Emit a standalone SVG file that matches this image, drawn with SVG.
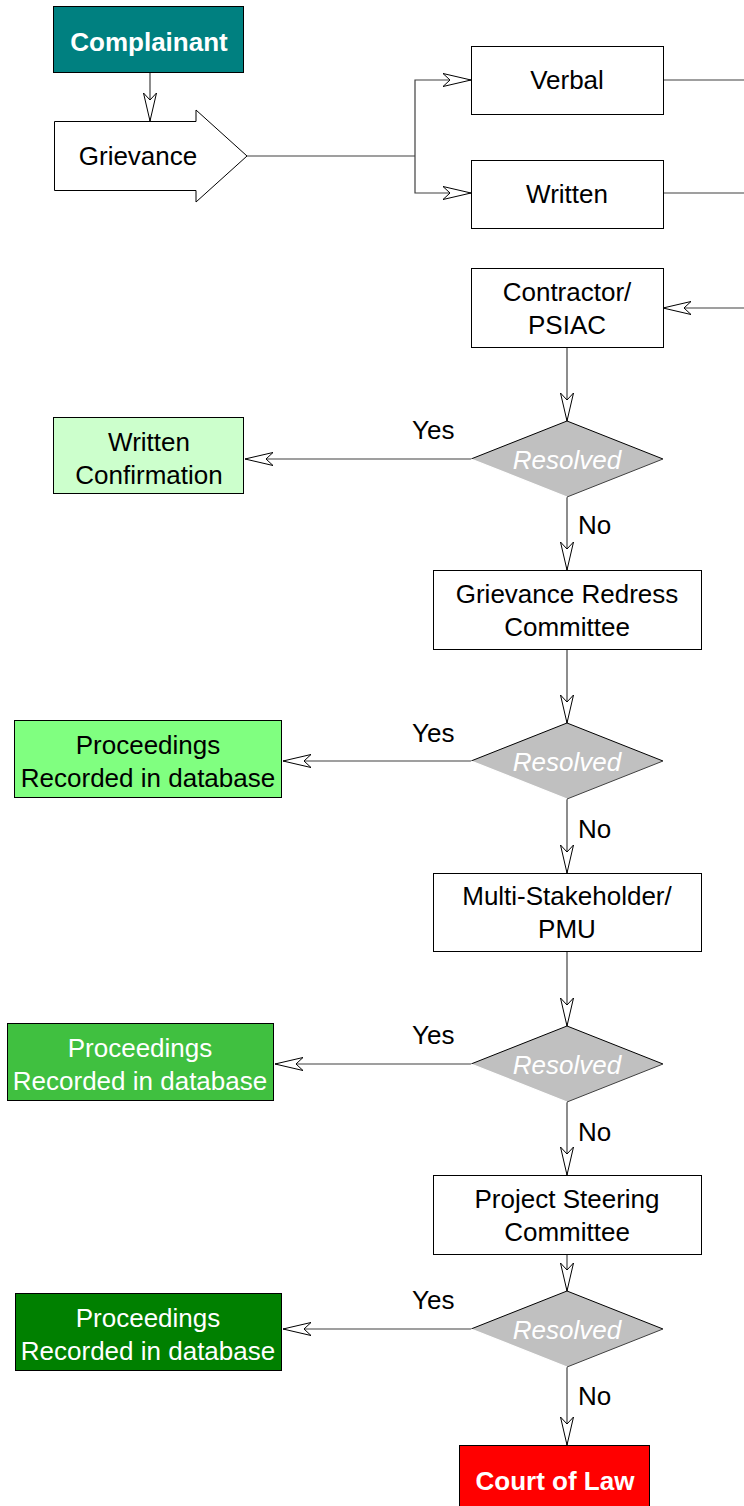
<svg xmlns="http://www.w3.org/2000/svg" width="744" height="1506" viewBox="0 0 744 1506">
<style>
.box{fill:#fff;stroke:#000;stroke-width:1}
.t{font-family:"Liberation Sans",Arial,sans-serif;font-size:26px;fill:#000;text-anchor:middle;dominant-baseline:central}
.tw{fill:#fff}
.b{font-weight:bold}
.dia{fill:#c0c0c0;stroke:none}
.de1{fill:none;stroke:#000;stroke-width:1}
.de2{fill:none;stroke:#fff;stroke-width:1.2}
.de3{fill:none;stroke:#404040;stroke-width:1}
.res{font-family:"Liberation Sans",Arial,sans-serif;font-size:26px;fill:#fff;font-style:italic;text-anchor:middle;dominant-baseline:central}
.c{fill:none;stroke:#404040;stroke-width:1.2}
.lbl{font-family:"Liberation Sans",Arial,sans-serif;font-size:26px;fill:#000;dominant-baseline:central}
</style>
<defs>
<marker id="ah" markerUnits="userSpaceOnUse" markerWidth="32" markerHeight="16" refX="29" refY="8" orient="auto">
<path d="M1,1.5 L29,8 L1,14.5 L8,8 Z" fill="#fff" stroke="#000" stroke-width="1"/>
</marker>
<g id="diamond">
<path class="dia" d="M-96,0 L0,-38 L96,0 L0,38 Z"/>
<path class="de1" d="M-96,0 L0,-38 L96,0"/>
<path class="de3" d="M96,0 L0,38"/>
<path class="de2" d="M0,38 L-96,0"/>
</g>
</defs>
<g id="connectors">
<path class="c" d="M150,72 V121" marker-end="url(#ah)"/>
<path class="c" d="M247,156 H415"/>
<path class="c" d="M415,156 V80 H471" marker-end="url(#ah)"/>
<path class="c" d="M415,156 V193 H471" marker-end="url(#ah)"/>
<path class="c" d="M663,80 H744"/>
<path class="c" d="M663,193 H744"/>
<path class="c" d="M744,308 H663" marker-end="url(#ah)"/>
<path class="c" d="M567,347 V421" marker-end="url(#ah)"/>
<path class="c" d="M471,459 H245" marker-end="url(#ah)"/>
<path class="c" d="M567,497 V570" marker-end="url(#ah)"/>
<path class="c" d="M567,649 V723" marker-end="url(#ah)"/>
<path class="c" d="M471,761 H283" marker-end="url(#ah)"/>
<path class="c" d="M567,799 V873" marker-end="url(#ah)"/>
<path class="c" d="M567,951 V1026" marker-end="url(#ah)"/>
<path class="c" d="M471,1064 H275" marker-end="url(#ah)"/>
<path class="c" d="M567,1102 V1175" marker-end="url(#ah)"/>
<path class="c" d="M567,1254 V1291" marker-end="url(#ah)"/>
<path class="c" d="M471,1329 H283" marker-end="url(#ah)"/>
<path class="c" d="M567,1367 V1445" marker-end="url(#ah)"/>
<text class="lbl" x="412" y="430">Yes</text>
<text class="lbl" x="578" y="525">No</text>
<text class="lbl" x="412" y="733">Yes</text>
<text class="lbl" x="578" y="829">No</text>
<text class="lbl" x="412" y="1035">Yes</text>
<text class="lbl" x="578" y="1132">No</text>
<text class="lbl" x="412" y="1300">Yes</text>
<text class="lbl" x="578" y="1396">No</text>
</g>
<g id="complainant">
<rect x="53.5" y="6.5" width="190" height="66" fill="#008080" stroke="#000"/>
<text class="t tw b" x="149" y="42">Complainant</text>
</g>
<g id="grievance">
<path d="M54.5,121.5 H196 V110 L247,156 L196,202 V190.5 H54.5 Z" class="box"/>
<text class="t" x="138" y="156">Grievance</text>
</g>
<g id="verbal">
<rect class="box" x="471.5" y="46.5" width="192" height="68"/>
<text class="t" x="567" y="80">Verbal</text>
</g>
<g id="written">
<rect class="box" x="471.5" y="160.5" width="192" height="68"/>
<text class="t" x="567" y="194">Written</text>
</g>
<g id="contractor">
<rect class="box" x="471.5" y="268.5" width="192" height="79"/>
<text class="t" x="567" y="292">Contractor/</text>
<text class="t" x="567" y="325">PSIAC</text>
</g>
<g id="resolved1">
<use href="#diamond" x="567" y="459"/>
<text class="res" x="567" y="460">Resolved</text>
</g>
<g id="confirmation">
<rect x="53.5" y="417.5" width="190" height="76" fill="#ccffcc" stroke="#000"/>
<text class="t" x="149" y="442">Written</text>
<text class="t" x="149" y="475">Confirmation</text>
</g>
<g id="grc">
<rect class="box" x="433.5" y="570.5" width="268" height="79"/>
<text class="t" x="567" y="594">Grievance Redress</text>
<text class="t" x="567" y="627">Committee</text>
</g>
<g id="resolved2">
<use href="#diamond" x="567" y="761"/>
<text class="res" x="567" y="762">Resolved</text>
</g>
<g id="proceedings1">
<rect x="14.5" y="720.5" width="267" height="77" fill="#80ff80" stroke="#000"/>
<text class="t" x="148" y="745">Proceedings</text>
<text class="t" x="148" y="778">Recorded in database</text>
</g>
<g id="msh">
<rect class="box" x="433.5" y="873.5" width="268" height="78"/>
<text class="t" x="567" y="896">Multi-Stakeholder/</text>
<text class="t" x="567" y="929">PMU</text>
</g>
<g id="resolved3">
<use href="#diamond" x="567" y="1064"/>
<text class="res" x="567" y="1065">Resolved</text>
</g>
<g id="proceedings2">
<rect x="7.5" y="1023.5" width="266" height="77" fill="#40c040" stroke="#000"/>
<text class="t tw" x="140" y="1048">Proceedings</text>
<text class="t tw" x="140" y="1081">Recorded in database</text>
</g>
<g id="psc">
<rect class="box" x="433.5" y="1175.5" width="268" height="79"/>
<text class="t" x="567" y="1199">Project Steering</text>
<text class="t" x="567" y="1232">Committee</text>
</g>
<g id="resolved4">
<use href="#diamond" x="567" y="1329"/>
<text class="res" x="567" y="1330">Resolved</text>
</g>
<g id="proceedings3">
<rect x="15.5" y="1293.5" width="266" height="77" fill="#008000" stroke="#000"/>
<text class="t tw" x="148" y="1318">Proceedings</text>
<text class="t tw" x="148" y="1351">Recorded in database</text>
</g>
<g id="court">
<rect x="459.5" y="1445.5" width="190" height="70" fill="#ff0000" stroke="#000"/>
<text class="t tw b" x="555" y="1481">Court of Law</text>
</g>
</svg>
